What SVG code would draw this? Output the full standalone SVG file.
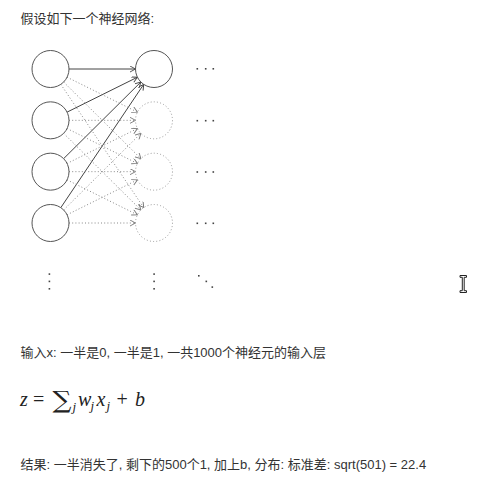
<svg xmlns="http://www.w3.org/2000/svg" width="478" height="484" viewBox="0 0 478 484">
<defs>
<marker id="arr" markerUnits="userSpaceOnUse" markerWidth="10" markerHeight="10" refX="6" refY="3" orient="auto">
<path d="M0.5,0 L6,3 L0.5,6" fill="none" stroke="#444" stroke-width="0.9"/>
</marker>
<marker id="arrd" markerUnits="userSpaceOnUse" markerWidth="10" markerHeight="10" refX="6" refY="3" orient="auto">
<path d="M0.5,0 L6,3 L0.5,6" fill="none" stroke="#777" stroke-width="0.9"/>
</marker>
</defs>
<style>
.txt{font-family:"Liberation Sans","Noto Sans CJK SC",sans-serif;font-size:13px;fill:#333}
.in{fill:#fff;stroke:#555;stroke-width:1}
.out{fill:#fff;stroke:#555;stroke-width:1}
.outd{fill:none;stroke:#999;stroke-width:1;stroke-dasharray:1 2.2}
.solid{stroke:#444;stroke-width:1;fill:none;marker-end:url(#arr)}
.dot{stroke:#888;stroke-width:1;fill:none;stroke-dasharray:1 2.2;marker-end:url(#arrd)}
.d{fill:#444}
.m{font-family:"Liberation Serif","DejaVu Serif",serif;font-size:20px;fill:#222}
.mi{font-style:italic}
.sub{font-size:13px}
.sum{font-family:"DejaVu Serif",serif;font-size:24px}
</style>
<rect width="478" height="484" fill="#fff"/>
<text class="txt" x="20.5" y="23">假设如下一个神经网络:</text>

<g id="connectors">
<line class="solid" x1="69" y1="69" x2="135.5" y2="69"/>
<line class="solid" x1="67.08" y1="112.11" x2="137.42" y2="77.22"/>
<line class="solid" x1="63.63" y1="158.64" x2="140.87" y2="82.03"/>
<line class="solid" x1="60.82" y1="207.64" x2="143.68" y2="84.36"/>
<line class="dot" x1="67.08" y1="77.22" x2="137.42" y2="112.11"/>
<line class="dot" x1="63.63" y1="82.03" x2="140.87" y2="158.64"/>
<line class="dot" x1="60.82" y1="84.36" x2="143.68" y2="207.64"/>
<line class="dot" x1="69" y1="120.33" x2="135.5" y2="120.33"/>
<line class="dot" x1="67.08" y1="128.55" x2="137.42" y2="163.45"/>
<line class="dot" x1="63.63" y1="133.36" x2="140.87" y2="209.97"/>
<line class="dot" x1="67.08" y1="163.45" x2="137.42" y2="128.55"/>
<line class="dot" x1="69" y1="171.67" x2="135.5" y2="171.67"/>
<line class="dot" x1="67.08" y1="179.89" x2="137.42" y2="214.78"/>
<line class="dot" x1="63.63" y1="209.97" x2="140.87" y2="133.36"/>
<line class="dot" x1="67.08" y1="214.78" x2="137.42" y2="179.89"/>
<line class="dot" x1="69" y1="223" x2="135.5" y2="223"/>
</g>

<g id="in1"><circle class="in" cx="50.5" cy="69" r="18.5"/></g>
<g id="in2"><circle class="in" cx="50.5" cy="120.33" r="18.5"/></g>
<g id="in3"><circle class="in" cx="50.5" cy="171.67" r="18.5"/></g>
<g id="in4"><circle class="in" cx="50.5" cy="223" r="18.5"/></g>
<g id="out1"><circle class="out" cx="154" cy="69" r="18.5"/></g>
<g id="out2"><circle class="outd" cx="154" cy="120.33" r="18.5"/></g>
<g id="out3"><circle class="outd" cx="154" cy="171.67" r="18.5"/></g>
<g id="out4"><circle class="outd" cx="154" cy="223" r="18.5"/></g>

<g id="ellipses">
<rect class="d" x="196.5" y="68" width="1.6" height="1.6"/><rect class="d" x="204.9" y="68" width="1.6" height="1.6"/><rect class="d" x="212.5" y="68" width="1.6" height="1.6"/>
<rect class="d" x="196.5" y="119.9" width="1.6" height="1.6"/><rect class="d" x="204.9" y="119.9" width="1.6" height="1.6"/><rect class="d" x="212.5" y="119.9" width="1.6" height="1.6"/>
<rect class="d" x="196.5" y="171.2" width="1.6" height="1.6"/><rect class="d" x="204.9" y="171.2" width="1.6" height="1.6"/><rect class="d" x="212.5" y="171.2" width="1.6" height="1.6"/>
<rect class="d" x="196.5" y="222.5" width="1.6" height="1.6"/><rect class="d" x="204.9" y="222.5" width="1.6" height="1.6"/><rect class="d" x="212.5" y="222.5" width="1.6" height="1.6"/>
<rect class="d" x="48.6" y="273.3" width="1.6" height="1.6"/><rect class="d" x="48.6" y="280.6" width="1.6" height="1.6"/><rect class="d" x="48.6" y="288" width="1.6" height="1.6"/>
<rect class="d" x="153.3" y="273.3" width="1.6" height="1.6"/><rect class="d" x="153.3" y="280.6" width="1.6" height="1.6"/><rect class="d" x="153.3" y="288" width="1.6" height="1.6"/>
<rect class="d" x="198" y="275" width="1.6" height="1.6"/><rect class="d" x="205.5" y="280.6" width="1.6" height="1.6"/><rect class="d" x="211.5" y="286.3" width="1.6" height="1.6"/>
</g>

<path d="M460,275.5 h6.5 v1.8 h-2.3 v13.4 h2.3 v1.8 h-6.5 v-1.8 h2.3 v-13.4 h-2.3 z" fill="#fff" stroke="#222" stroke-width="1"/>

<text class="txt" x="20.5" y="357">输入x: 一半是0, 一半是1, 一共1000个神经元的输入层</text>

<g id="formula">
<text class="m mi" x="20" y="406">z</text>
<text class="m" x="33" y="406">=</text>
<text class="m sum" x="52.5" y="408" textLength="19" lengthAdjust="spacingAndGlyphs">∑</text>
<text class="m mi sub" x="72.5" y="411">j</text>
<text class="m mi" x="78" y="406">w</text>
<text class="m mi sub" x="90.5" y="409.5">j</text>
<text class="m mi" x="96.5" y="406">x</text>
<text class="m mi sub" x="106.5" y="409.5">j</text>
<text class="m" x="116.5" y="406">+</text>
<text class="m mi" x="135" y="406">b</text>
</g>

<text class="txt" x="20.5" y="469">结果: 一半消失了, 剩下的500个1, 加上b, 分布: 标准差: sqrt(501) = 22.4</text>
</svg>
